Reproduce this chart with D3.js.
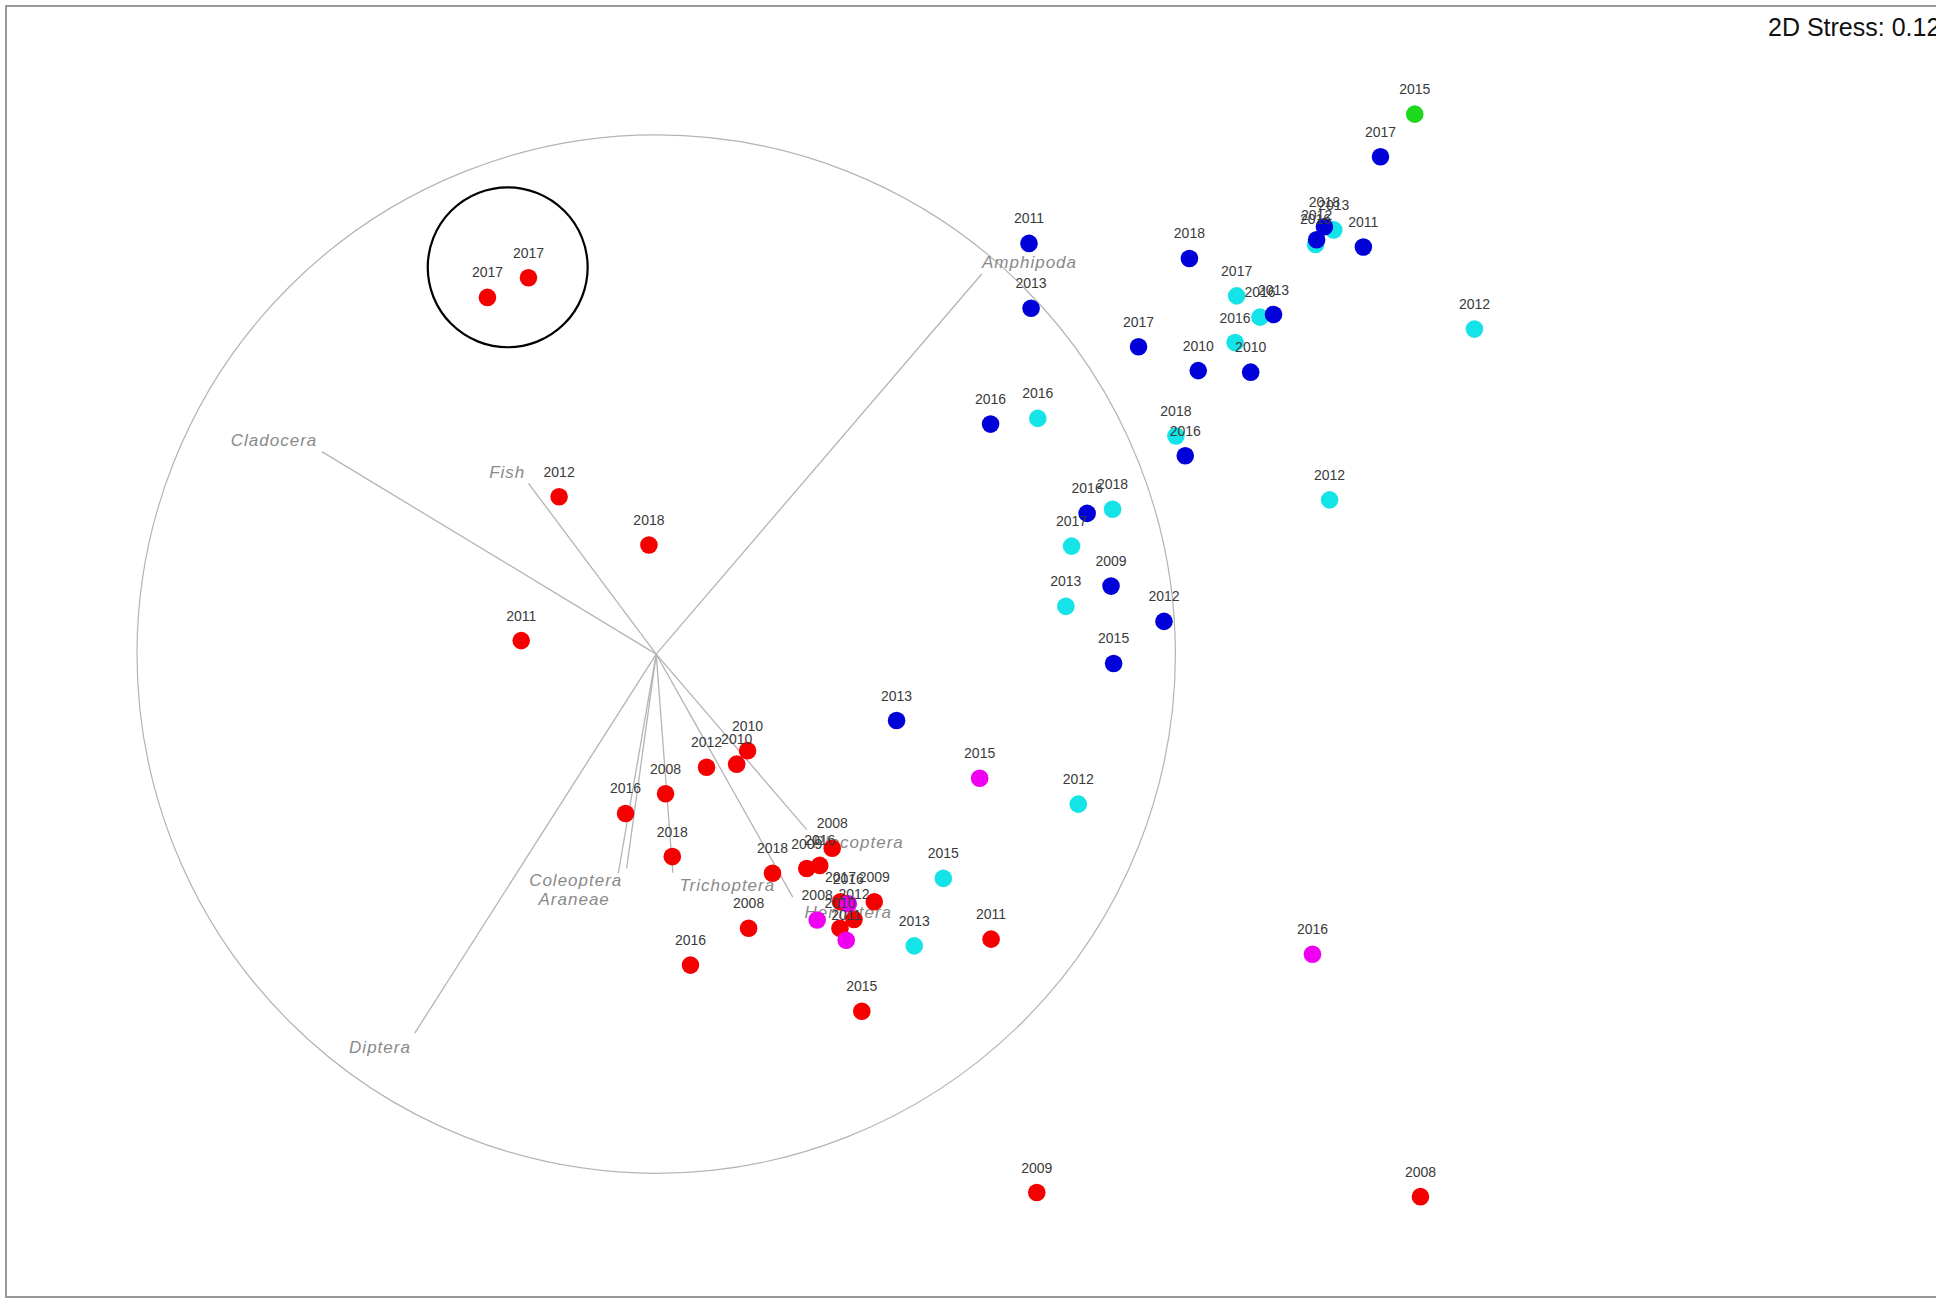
<!DOCTYPE html>
<html>
<head>
<meta charset="utf-8">
<script src="https://cdn.jsdelivr.net/npm/d3@7"></script>
<style>
  html, body { margin: 0; padding: 0; background: #fff; }
  svg { display: block; font-family: "Liberation Sans", Arial, sans-serif; }
  .frame { fill: none; stroke: #9a9a9a; stroke-width: 2; }
  .vector-circle { fill: none; stroke: #b4b4b4; stroke-width: 1.2; }
  .vector { stroke: #b4b4b4; stroke-width: 1.3; }
  .species { fill: #8a8a8a; font-size: 17px; font-style: italic; letter-spacing: 1px; }
  .year { fill: #3a3a3a; font-size: 14px; text-anchor: middle; }
  .highlight { fill: none; stroke: #000; stroke-width: 2.2; }
  .stress { fill: #111; font-size: 25px; }
</style>
</head>
<body>
<div id="chart"></div>
<script>
;(function() {
  'use strict';

  // Site scores [year, MDS1, MDS2], in units of the vector circle radius.
  var redSites = [
    ['2017', -0.325, 0.687], ['2017', -0.246, 0.725], ['2012', -0.187, 0.303],
    ['2018', -0.014, 0.210], ['2011', -0.260, 0.026], ['2010', 0.176, -0.186],
    ['2010', 0.155, -0.212], ['2012', 0.097, -0.218], ['2008', 0.018, -0.269],
    ['2016', -0.059, -0.307], ['2018', 0.031, -0.390], ['2018', 0.224, -0.422],
    ['2009', 0.290, -0.413], ['2016', 0.315, -0.407], ['2008', 0.339, -0.374],
    ['2008', 0.178, -0.528], ['2016', 0.066, -0.599], ['2015', 0.396, -0.688],
    ['2011', 0.645, -0.549], ['2009', 0.733, -1.037], ['2008', 1.472, -1.045],
    ['2017', 0.355, -0.477], ['2009', 0.420, -0.477], ['2012', 0.381, -0.511],
    ['2010', 0.354, -0.528]
  ];
  var magentaSites = [
    ['2016', 0.370, -0.481], ['2008', 0.310, -0.512], ['2011', 0.366, -0.551],
    ['2015', 0.623, -0.239], ['2016', 1.264, -0.578]
  ];
  var cyanSites = [
    ['2013', 1.305, 0.817], ['2016', 1.270, 0.789], ['2017', 1.118, 0.690],
    ['2016', 1.163, 0.649], ['2016', 1.115, 0.600], ['2012', 1.576, 0.626],
    ['2016', 0.735, 0.454], ['2018', 1.001, 0.420], ['2018', 0.879, 0.279],
    ['2017', 0.800, 0.208], ['2013', 0.789, 0.092], ['2012', 1.297, 0.297],
    ['2012', 0.813, -0.289], ['2015', 0.553, -0.432], ['2013', 0.497, -0.562]
  ];
  var blueSites = [
    ['2017', 1.395, 0.958], ['2012', 1.272, 0.798], ['2018', 1.287, 0.823],
    ['2011', 1.362, 0.784], ['2013', 1.189, 0.654], ['2010', 1.145, 0.543],
    ['2010', 1.044, 0.546], ['2017', 0.929, 0.592], ['2018', 1.027, 0.762],
    ['2011', 0.718, 0.791], ['2013', 0.722, 0.666], ['2016', 0.644, 0.443],
    ['2016', 1.019, 0.382], ['2016', 0.830, 0.271], ['2009', 0.876, 0.131],
    ['2012', 0.978, 0.063], ['2015', 0.881, -0.018], ['2013', 0.463, -0.128]
  ];
  var greenSites = [
    ['2015', 1.461, 1.040]
  ];

  // Species vectors: [name, end MDS1, end MDS2, label MDS1, label MDS2].
  var speciesVectors = [
    ['Amphipoda', 0.627, 0.732, 0.719, 0.756],
    ['Cladocera', -0.644, 0.390, -0.736, 0.412],
    ['Fish', -0.246, 0.329, -0.287, 0.351],
    ['Diptera', -0.465, -0.730, -0.532, -0.756],
    ['Coleoptera', -0.073, -0.422, -0.155, -0.435],
    ['Araneae', -0.057, -0.413, -0.158, -0.472],
    ['Trichoptera', 0.032, -0.421, 0.137, -0.445],
    ['Hemiptera', 0.263, -0.468, 0.370, -0.497],
    ['Plecoptera', 0.290, -0.338, 0.389, -0.362]
  ];

  // Hand-drawn highlight around the two 2017 outliers: [MDS1, MDS2, radius].
  var highlight = [-0.286, 0.745, 0.154];

  var stressLabel = '2D Stress: 0.12';

  // Series in drawing order (later ones sit on top).
  var series = [
    {key: 'red', color: '#f50000', sites: redSites},
    {key: 'magenta', color: '#f000f0', sites: magentaSites},
    {key: 'cyan', color: '#14e4e8', sites: cyanSites},
    {key: 'blue', color: '#0000d8', sites: blueSites},
    {key: 'green', color: '#1ed81e', sites: greenSites}
  ];

  var width = 1936,
      height = 1300,
      pointR = 8.8;

  // The vector circle has radius 1 in data units.
  var x = d3.scaleLinear().domain([-1, 1]).range([137, 1175.4]);
  var y = d3.scaleLinear().domain([-1, 1]).range([1173.3, 134.9]);
  var unit = x(1) - x(0);

  var svg = d3.select('#chart').append('svg')
      .attr('width', width)
      .attr('height', height);

  svg.append('rect')
      .attr('class', 'frame')
      .attr('x', 6)
      .attr('y', 6)
      .attr('width', width)
      .attr('height', height - 9);

  // Vector circle and species vectors.
  svg.append('circle')
      .attr('class', 'vector-circle')
      .attr('cx', x(0))
      .attr('cy', y(0))
      .attr('r', unit);

  svg.append('g').selectAll('line')
      .data(speciesVectors)
      .enter().append('line')
      .attr('class', 'vector')
      .attr('x1', x(0))
      .attr('y1', y(0))
      .attr('x2', function(d) { return x(d[1]); })
      .attr('y2', function(d) { return y(d[2]); });

  svg.append('g').selectAll('text')
      .data(speciesVectors)
      .enter().append('text')
      .attr('class', 'species')
      .attr('text-anchor', 'middle')
      .attr('x', function(d) { return x(d[3]); })
      .attr('y', function(d) { return y(d[4]); })
      .attr('dy', '0.35em')
      .text(function(d) { return d[0]; });

  // Site points.
  var pts = svg.append('g');
  series.forEach(function(s) {
    pts.append('g').selectAll('circle')
        .data(s.sites)
        .enter().append('circle')
        .attr('cx', function(d) { return x(d[1]); })
        .attr('cy', function(d) { return y(d[2]); })
        .attr('r', pointR)
        .attr('fill', s.color);
  });

  // Year labels above each point.
  var labels = svg.append('g');
  series.forEach(function(s) {
    labels.append('g').selectAll('text')
        .data(s.sites)
        .enter().append('text')
        .attr('class', 'year')
        .attr('x', function(d) { return x(d[1]); })
        .attr('y', function(d) { return y(d[2]) - 20; })
        .text(function(d) { return d[0]; });
  });

  svg.append('circle')
      .attr('class', 'highlight')
      .attr('cx', x(highlight[0]))
      .attr('cy', y(highlight[1]))
      .attr('r', highlight[2] * unit);

  svg.append('text')
      .attr('class', 'stress')
      .attr('x', 1768)
      .attr('y', 36)
      .text(stressLabel);
}());
</script>
</body>
</html>
